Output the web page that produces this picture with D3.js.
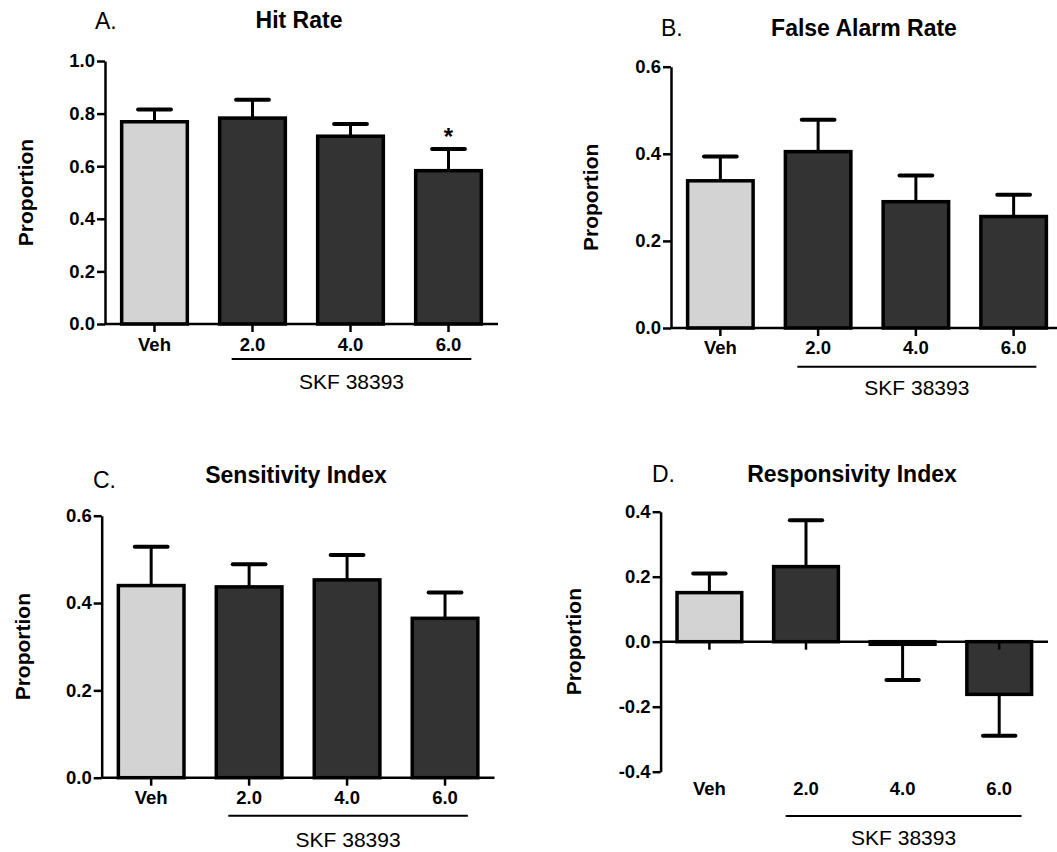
<!DOCTYPE html>
<html>
<head>
<meta charset="utf-8">
<script src="https://d3js.org/d3.v7.min.js"></script>
<style>
  body { margin: 0; background: #fff; }
  text { font-family: "Liberation Sans", Arial, sans-serif; fill: #000; }
</style>
</head>
<body>
<div id="my_dataviz"></div>
<script>

// groups on the x axis
var groups = ["Veh", "2.0", "4.0", "6.0"];
var drugLabel = "SKF 38393";

// means and SEM
var hitMean  = [0.769, 0.783, 0.714, 0.583];
var hitSem   = [0.047, 0.070, 0.046, 0.082];
var faMean   = [0.338, 0.405, 0.290, 0.256];
var faSem    = [0.056, 0.073, 0.060, 0.050];
var sensMean = [0.440, 0.437, 0.453, 0.365];
var sensSem  = [0.089, 0.052, 0.057, 0.059];
var respMean = [0.151, 0.231, -0.008, -0.162];
var respSem  = [0.059, 0.143, 0.110, 0.127];

// tick values per panel
var ticksHit  = [0, 0.2, 0.4, 0.6, 0.8, 1.0];
var ticksSix  = [0, 0.2, 0.4, 0.6];
var ticksResp = [-0.4, -0.2, 0, 0.2, 0.4];

var fmt = function(v) { return d3.format(".1f")(v).replace("\u2212", "-"); };

var svg = d3.select("#my_dataviz")
  .append("svg")
    .attr("width", 1057)
    .attr("height", 852);

function drawPanel(p) {
  var g = svg.append("g");

  var x = d3.scaleBand()
    .domain(groups)
    .range(p.xr)
    .paddingInner(0.33)
    .paddingOuter(0.17);

  var y = d3.scaleLinear()
    .domain(p.domain)
    .range(p.yr);

  var data = groups.map(function(d, i) {
    return {g: d, m: p.mean[i], s: p.sem[i], i: i};
  });

  var y0 = y(0);

  // bars
  g.selectAll("rect.bar")
    .data(data)
    .enter()
    .append("rect")
      .attr("x", function(d) { return x(d.g); })
      .attr("y", function(d) { return Math.min(y(d.m), y0); })
      .attr("width", x.bandwidth())
      .attr("height", function(d) { return Math.abs(y(d.m) - y0); })
      .style("fill", function(d) { return d.i == 0 ? "#d3d3d3" : "#333333"; })
      .style("stroke", "#000")
      .style("stroke-width", 3.5);

  // error bars (one-sided, away from zero)
  var dir = function(d) { return d.m >= 0 ? 1 : -1; };
  g.selectAll("line.err")
    .data(data)
    .enter()
    .append("line")
      .attr("x1", function(d) { return x(d.g) + x.bandwidth() / 2; })
      .attr("x2", function(d) { return x(d.g) + x.bandwidth() / 2; })
      .attr("y1", function(d) { return y(d.m); })
      .attr("y2", function(d) { return y(d.m + dir(d) * d.s); })
      .style("stroke", "#000")
      .style("stroke-width", 3);
  g.selectAll("line.cap")
    .data(data)
    .enter()
    .append("line")
      .attr("x1", function(d) { return x(d.g) + x.bandwidth() / 4; })
      .attr("x2", function(d) { return x(d.g) + x.bandwidth() * 3 / 4; })
      .attr("y1", function(d) { return y(d.m + dir(d) * d.s); })
      .attr("y2", function(d) { return y(d.m + dir(d) * d.s); })
      .style("stroke", "#000")
      .style("stroke-width", 4)
      .style("stroke-linecap", "round");

  // y axis
  var ya = g.append("g")
    .attr("transform", "translate(" + p.xr[0] + ",0)")
    .call(d3.axisLeft(y).tickValues(p.ticks).tickFormat(fmt)
      .tickSize(8).tickSizeOuter(0).tickPadding(2));
  ya.select(".domain").style("stroke-width", 2.5);
  ya.selectAll(".tick line").style("stroke-width", 2.5);
  ya.selectAll("text")
    .style("font-size", "18.5px")
    .style("font-weight", "bold")
    .style("font-family", "'Liberation Sans', Arial, sans-serif");

  // x axis line at zero with ticks below
  g.append("line")
    .attr("x1", p.xr[0]).attr("x2", p.axisEnd)
    .attr("y1", y0).attr("y2", y0)
    .style("stroke", "#000").style("stroke-width", 2.5);
  g.selectAll("line.xtick")
    .data(groups)
    .enter()
    .append("line")
      .attr("x1", function(d) { return x(d) + x.bandwidth() / 2; })
      .attr("x2", function(d) { return x(d) + x.bandwidth() / 2; })
      .attr("y1", y0).attr("y2", y0 + 8)
      .style("stroke", "#000").style("stroke-width", 2.5);

  // group labels
  g.selectAll("text.xl")
    .data(groups)
    .enter()
    .append("text")
      .attr("x", function(d) { return x(d) + x.bandwidth() / 2; })
      .attr("y", p.labelY)
      .attr("text-anchor", "middle")
      .style("font-size", "18.5px")
      .style("font-weight", "bold")
      .text(function(d) { return d; });

  // drug underline + label
  var ux1 = x(groups[1]) + 12, ux2 = x(groups[3]) + x.bandwidth() - 10;
  g.append("line")
    .attr("x1", ux1).attr("x2", ux2)
    .attr("y1", p.lineY).attr("y2", p.lineY)
    .style("stroke", "#000").style("stroke-width", 2);
  g.append("text")
    .attr("x", (ux1 + ux2) / 2)
    .attr("y", p.drugY)
    .attr("text-anchor", "middle")
    .style("font-size", "21px")
    .text(drugLabel);

  // titles
  g.append("text")
    .attr("x", p.titleX).attr("y", p.titleY)
    .attr("text-anchor", "middle")
    .style("font-size", "23px")
    .style("font-weight", "bold")
    .text(p.title);
  g.append("text")
    .attr("x", p.letterX).attr("y", p.letterY)
    .style("font-size", "23px")
    .text(p.letter);

  // y label
  g.append("text")
    .attr("transform", "translate(" + p.ylabX + "," + ((p.yr[0] + p.yr[1]) / 2) + ") rotate(-90)")
    .attr("text-anchor", "middle")
    .style("font-size", "21px")
    .style("font-weight", "bold")
    .text("Proportion");

  // significance marks
  if (p.star) {
    var sd = data[p.star];
    g.append("text")
      .attr("x", x(sd.g) + x.bandwidth() / 2)
      .attr("y", y(sd.m + sd.s) - 4)
      .attr("text-anchor", "middle")
      .style("font-size", "24px")
      .style("font-weight", "bold")
      .text("*");
  }
}

drawPanel({
  letter: "A.", title: "Hit Rate", mean: hitMean, sem: hitSem,
  domain: [0, 1], ticks: ticksHit,
  xr: [105, 498], axisEnd: 498, yr: [324, 61],
  labelY: 351, lineY: 359, drugY: 389,
  titleX: 299, titleY: 28, letterX: 95, letterY: 29, ylabX: 33, star: 3
});

drawPanel({
  letter: "B.", title: "False Alarm Rate", mean: faMean, sem: faSem,
  domain: [0, 0.6], ticks: ticksSix,
  xr: [671, 1063], axisEnd: 1057, yr: [328, 66.7],
  labelY: 354, lineY: 366.7, drugY: 395,
  titleX: 864, titleY: 36, letterX: 661, letterY: 36, ylabX: 598
});

drawPanel({
  letter: "C.", title: "Sensitivity Index", mean: sensMean, sem: sensSem,
  domain: [0, 0.6], ticks: ticksSix,
  xr: [101.7, 494.5], axisEnd: 494.5, yr: [777.7, 515.7],
  labelY: 804, lineY: 815.7, drugY: 847,
  titleX: 296, titleY: 483, letterX: 93, letterY: 488, ylabX: 30
});

drawPanel({
  letter: "D.", title: "Responsivity Index", mean: respMean, sem: respSem,
  domain: [-0.4, 0.4], ticks: ticksResp,
  xr: [660.6, 1048], axisEnd: 1048, yr: [771.7, 511.7],
  labelY: 795, lineY: 816, drugY: 845,
  titleX: 852, titleY: 482, letterX: 652, letterY: 482, ylabX: 581
});

</script>
</body>
</html>
